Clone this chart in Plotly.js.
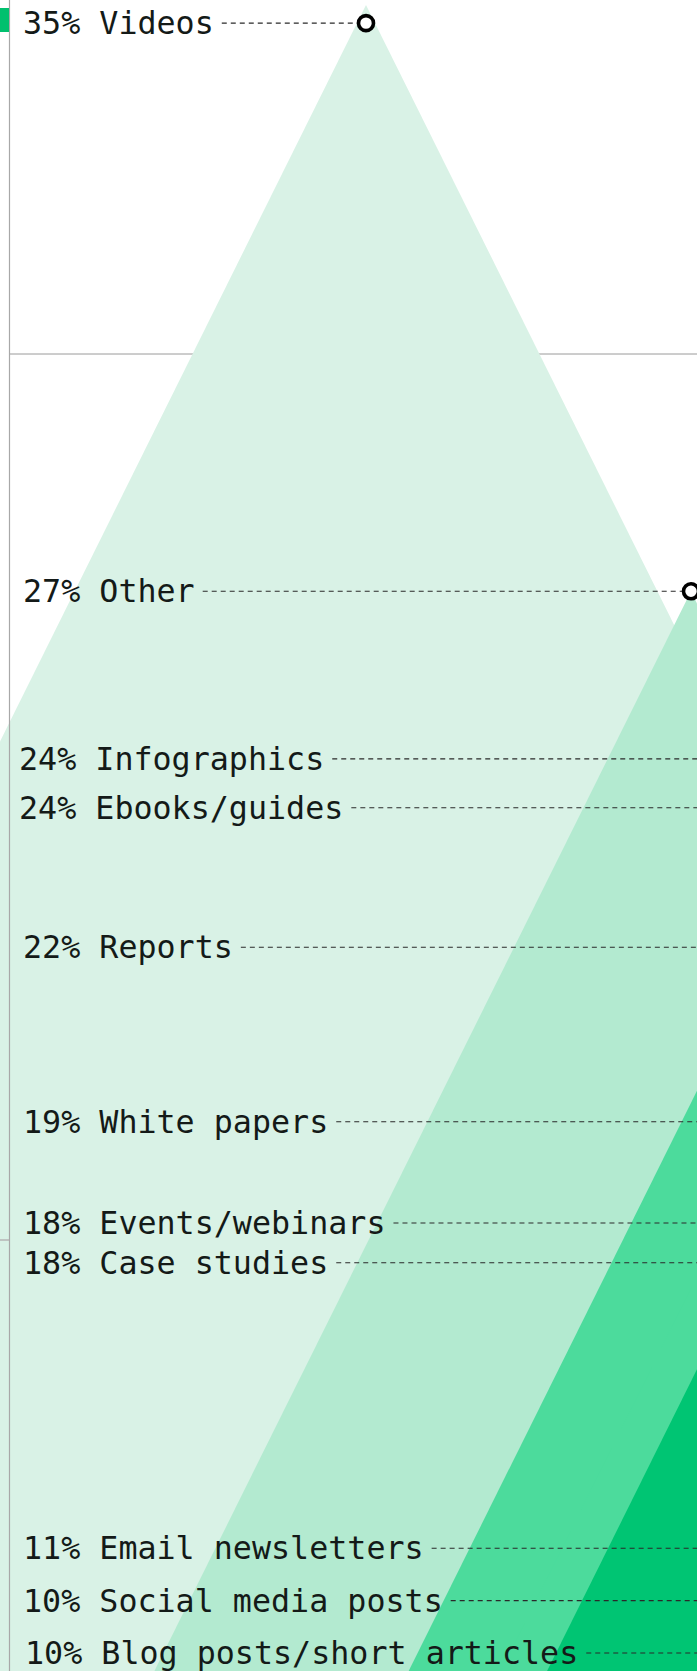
<!DOCTYPE html>
<html><head><meta charset="utf-8">
<script src="https://cdn.plot.ly/plotly-3.0.1.min.js"></script>
<style>html,body{margin:0;padding:0;background:#fff;overflow:hidden}#chart{width:697px;height:1671px}</style>
</head><body><div id="chart"></div>
<script>
// ---- data ----
const categories = ["Videos","Other","Infographics","Ebooks/guides","Reports","White papers","Events/webinars","Case studies","Email newsletters","Social media posts","Blog posts/short articles"];
const shares = [35.0, 26.6, 24.2, 23.5, 21.5, 19.0, 17.55, 17.5, 11.0, 10.0, 10.0];
const peakX = [366, 691, 862, 930, 1000, 820, 1060, 1120, 1180, 1240, 1300];
const tiers = [0, 1, 2, 2, 2, 3, 3, 3, 3, 3, 3];
const gridValues = [30];

// ---- layout-only settings ----
const labelY = [34.74, 26.6, 24.2, 23.5, 21.5, 19.0, 17.55, 16.98, 12.89, 12.14, 11.39];
const labelX = [21, 21, 17, 17, 21, 21, 21, 21, 21, 21, 23];
const tierColors = ['#d9f2e6', '#b3ead0', '#4cdb9c', '#00c573'];
const SPREAD = 34.69;
const FONT = 'DejaVu Sans Mono';
const FONT_SIZE = 31.7;

const ctx = document.createElement('canvas').getContext('2d');
ctx.font = FONT_SIZE + 'px "' + FONT + '"';

const traces = [];
shares.forEach((v, i) => {
  const x0 = peakX[i];
  traces.push({
    type: 'scatter', mode: 'lines',
    x: [x0 - SPREAD * v, x0, x0 + SPREAD * v, x0 - SPREAD * v],
    y: [0, v, 0, 0],
    fill: 'toself', fillcolor: tierColors[tiers[i]],
    line: {width: 0, color: tierColors[tiers[i]]},
    hoverinfo: 'skip'
  });
});

const texts = shares.map((v, i) => Math.round(v) + '% ' + categories[i]);
const lx = [], ly = [];
texts.forEach((t, i) => {
  const w = ctx.measureText(t).width;
  lx.push(labelX[i] + w + 10, peakX[i], null);
  ly.push(labelY[i], labelY[i], null);
});
traces.push({
  type: 'scatter', mode: 'lines', x: lx, y: ly,
  line: {color: '#2a2a2a', width: 1.1, dash: '5px,4px'},
  hoverinfo: 'skip', connectgaps: false
});
traces.push({
  type: 'scatter', mode: 'markers', x: peakX, y: labelY,
  marker: {size: 15, color: '#ffffff', line: {color: '#000000', width: 3.6}},
  hoverinfo: 'skip'
});

const annotations = texts.map((t, i) => ({
  x: labelX[i], y: labelY[i], xref: 'x', yref: 'y', text: t,
  showarrow: false, xanchor: 'left', yanchor: 'middle',
  font: {family: FONT, size: FONT_SIZE, color: '#141a18'}
}));

const shapes = [];
gridValues.forEach(g => shapes.push({
  type: 'line', xref: 'paper', yref: 'y', x0: 9.5 / 697, x1: 1, y0: g, y1: g,
  layer: 'below', line: {color: '#9a9a9a', width: 1}
}));
shapes.push({type: 'line', xref: 'paper', yref: 'paper', x0: 9.5 / 697, x1: 9.5 / 697, y0: 0, y1: 1,
  layer: 'above', line: {color: '#a8a8a8', width: 1.2}});
shapes.push({type: 'line', xref: 'paper', yref: 'paper', x0: 0, x1: 9 / 697, y0: 1 - 1240 / 1671, y1: 1 - 1240 / 1671,
  layer: 'above', line: {color: '#b5b5b5', width: 1.5}});
shapes.push({type: 'rect', xref: 'paper', yref: 'paper', x0: 0, x1: 9 / 697, y0: 1 - 32 / 1671, y1: 1 - 8 / 1671,
  layer: 'above', fillcolor: '#00c06e', line: {width: 0}});

const layout = {
  width: 697, height: 1671,
  margin: {l: 0, r: 0, t: 0, b: 0, pad: 0},
  paper_bgcolor: '#ffffff', plot_bgcolor: '#ffffff',
  showlegend: false,
  xaxis: {range: [0, 697], visible: false, fixedrange: true},
  yaxis: {range: [11.132, 35.0716], visible: false, fixedrange: true},
  annotations: annotations,
  shapes: shapes
};

Plotly.newPlot('chart', traces, layout, {staticPlot: true, displayModeBar: false});
</script>
</body></html>
